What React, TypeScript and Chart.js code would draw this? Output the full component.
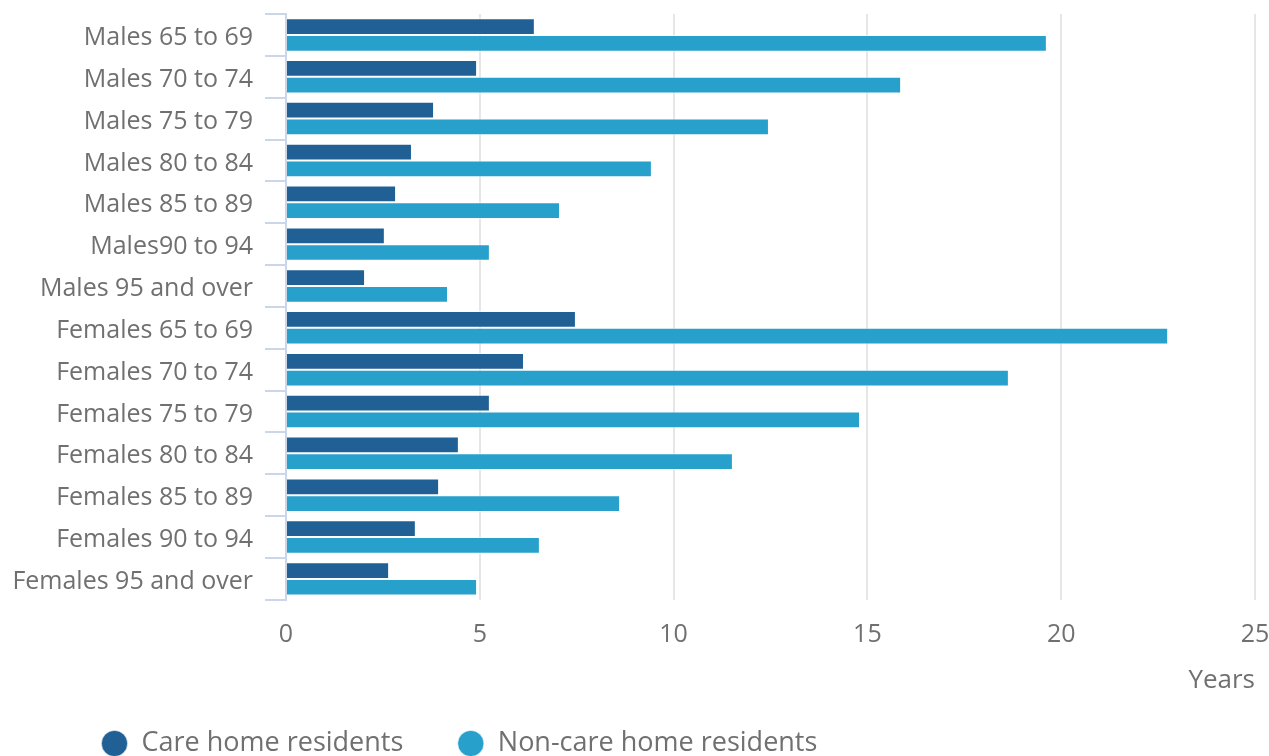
import React, { useEffect, useRef } from "react";
import { Chart, registerables } from "chart.js";

Chart.register(...registerables);

const categories = [
  "Males 65 to 69",
  "Males 70 to 74",
  "Males 75 to 79",
  "Males 80 to 84",
  "Males 85 to 89",
  "Males90 to 94",
  "Males 95 and over",
  "Females 65 to 69",
  "Females 70 to 74",
  "Females 75 to 79",
  "Females 80 to 84",
  "Females 85 to 89",
  "Females 90 to 94",
  "Females 95 and over",
];

const careHome = [6.42, 4.93, 3.82, 3.25, 2.84, 2.55, 2.04, 7.48, 6.14, 5.26, 4.46, 3.95, 3.35, 2.66];
const nonCareHome = [19.63, 15.87, 12.46, 9.44, 7.07, 5.26, 4.18, 22.76, 18.65, 14.81, 11.53, 8.62, 6.55, 4.93];

const seriesNames = ["Care home residents", "Non-care home residents"];
const xTicks = [0, 5, 10, 15, 20, 25];

const FONT = "'Open Sans', 'Noto Sans', sans-serif";
const TEXT = "#707070";

const legendShift = {
  id: "legendShift",
  afterLayout(chart: any) {
    if (chart.legend) {
      const w = chart.legend.right - chart.legend.left;
      chart.legend.left = 47;
      chart.legend.right = 47 + w;
    }
  },
};

export default function App() {
  const ref = useRef<HTMLCanvasElement | null>(null);

  useEffect(() => {
    if (!ref.current) return;
    const chart = new Chart(ref.current, {
      type: "bar",
      data: {
        labels: categories,
        datasets: [
          {
            label: seriesNames[0],
            data: careHome,
            backgroundColor: "#206095",
            borderColor: "rgba(255,255,255,0.6)",
            borderWidth: 1,
            categoryPercentage: 0.8,
            barPercentage: 1,
          },
          {
            label: seriesNames[1],
            data: nonCareHome,
            backgroundColor: "#27a0cc",
            borderColor: "rgba(255,255,255,0.6)",
            borderWidth: 1,
            categoryPercentage: 0.8,
            barPercentage: 1,
          },
        ],
      },
      plugins: [legendShift],
      options: {
        indexAxis: "y",
        animation: false,
        responsive: true,
        maintainAspectRatio: false,
        layout: { padding: { top: 14, left: 0, right: 0, bottom: 0 } },
        plugins: {
          tooltip: { enabled: false },
          legend: {
            position: "bottom",
            align: "start",
            labels: {
              usePointStyle: true,
              pointStyle: "circle",
              boxWidth: 27,
              boxHeight: 18.5,
              padding: 54,
              color: TEXT,
              font: { family: FONT, size: 27 },
            },
          },
        },
        scales: {
          x: {
            min: 0,
            max: 25,
            afterBuildTicks: (axis: any) => {
              axis.ticks = xTicks.map((v) => ({ value: v }));
            },
            afterFit: (axis: any) => {
              axis.paddingRight = 14;
              axis.paddingLeft = 0;
            },
            grid: { color: "#e6e6e6", lineWidth: 2, drawTicks: false },
            border: { display: false },
            ticks: { color: TEXT, font: { family: FONT, size: 25 }, padding: 20 },
            title: {
              display: true,
              text: "Years",
              align: "end",
              color: TEXT,
              font: { family: FONT, size: 26 },
              padding: { top: -5, bottom: -20 },
            },
          },
          y: {
            afterFit: (axis: any) => {
              axis.width = 286;
              axis.paddingTop = 0;
              axis.paddingBottom = 0;
            },
            grid: {
              drawOnChartArea: false,
              drawTicks: true,
              tickLength: 21,
              color: "#ccd6eb",
              lineWidth: 2,
            },
            border: { color: "#ccd6eb", width: 2 },
            ticks: { color: TEXT, font: { family: FONT, size: 25 }, padding: 12, labelOffset: 3 },
          },
        },
      },
    });
    return () => chart.destroy();
  }, []);

  return (
    <div style={{ position: "absolute", top: 0, left: 0, width: 1269, height: 756, overflow: "hidden", background: "#fff" }}>
      <div style={{ position: "relative", width: 1269, height: 767 }}>
        <canvas ref={ref} />
      </div>
    </div>
  );
}
